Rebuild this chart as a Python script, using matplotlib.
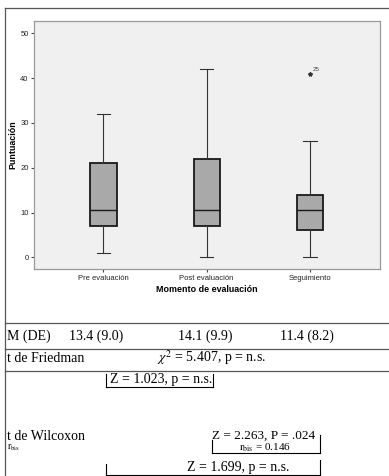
import matplotlib
matplotlib.use("Agg")
import matplotlib.pyplot as plt
from matplotlib.lines import Line2D

plt.rcParams['mathtext.fontset'] = 'stix'

# data
categories = ['Pre evaluación', 'Post evaluación', 'Seguimiento']
whislo = [1, 0, 0]
q1 = [7, 7, 6]
med = [10.5, 10.5, 10.5]
q3 = [21, 22, 14]
whishi = [32, 42, 26]
fliers = [[], [], [41]]
flier_ids = [[], [], ['25']]
yticks = [0, 10, 20, 30, 40, 50]
mean_sd = ['13.4 (9.0)', '14.1 (9.9)', '11.4 (8.2)']

W, H = 389, 476


def fx(x):
    return x / W


def fy(y):
    return 1 - y / H


fig = plt.figure(figsize=(W / 100, H / 100), dpi=100)
fig.patch.set_facecolor('white')

# chart area
ax = fig.add_axes([fx(34.3), fy(269), (380 - 34.3) / W, (269 - 20.7) / H])
ax.set_facecolor('#f0f0f0')

stats = []
for i in range(len(categories)):
    stats.append(dict(whislo=whislo[i], q1=q1[i], med=med[i], q3=q3[i],
                      whishi=whishi[i], fliers=fliers[i], label=categories[i]))

pos = [1, 2, 3]
ax.bxp(stats, positions=pos, widths=0.255, capwidths=0.13, patch_artist=True,
       boxprops=dict(facecolor='#a9a9a9', edgecolor='#1a1a1a', linewidth=1.3),
       medianprops=dict(color='#1a1a1a', linewidth=1.0),
       whiskerprops=dict(color='#333333', linewidth=0.8),
       capprops=dict(color='#333333', linewidth=0.8),
       flierprops=dict(marker='*', markersize=3, markerfacecolor='#333333',
                       markeredgecolor='#333333', linestyle='none'))

for i, ids in enumerate(flier_ids):
    for v, lab in zip(fliers[i], ids):
        ax.annotate(lab, (pos[i], v), xytext=(2, 2), textcoords='offset points',
                    fontsize=4.5, color='#444444', family='Liberation Sans')

ax.set_xlim(0.332, 3.677)
ax.set_ylim(-2.6, 52.8)
ax.set_yticks(yticks)
ax.set_xticks(pos)
ax.set_xticklabels(categories)
for s in ax.spines.values():
    s.set_color('#9a9a9a')
    s.set_linewidth(0.9)
ax.tick_params(axis='both', length=2.5, width=0.8, color='#444444',
               labelsize=5.5, labelcolor='#222222', pad=1.5)
for t in ax.get_xticklabels() + ax.get_yticklabels():
    t.set_family('Liberation Sans')
ax.set_xlabel('Momento de evaluación', fontsize=6.4, fontweight='bold',
              family='Liberation Sans', labelpad=2.5)
ax.set_ylabel('Puntuación', fontsize=6.4, fontweight='bold',
              family='Liberation Sans', labelpad=2)


def hline(y, x0=5, x1=W, color='#555555', lw=0.9):
    fig.add_artist(Line2D([fx(x0), fx(x1)], [fy(y), fy(y)], color=color, lw=lw))


def vline(x, y0, y1, color='#555555', lw=0.9):
    fig.add_artist(Line2D([fx(x), fx(x)], [fy(y0), fy(y1)], color=color, lw=lw))


# outer frame and table rules
hline(8)
vline(5, 8, H)
hline(323)
hline(349)
hline(371)

serif = dict(family='Liberation Serif', fontsize=10, color='black')

fig.text(fx(7), fy(336), 'M (DE)', va='center', ha='left', **serif)
for x, s in zip([96, 205, 307], mean_sd):
    fig.text(fx(x), fy(336), s, va='center', ha='center', **serif)

fig.text(fx(7), fy(358), 't de Friedman', va='center', ha='left', **serif)
fig.text(fx(212), fy(358), r'$\chi^2$ = 5.407, p = n.s.', va='center',
         ha='center', **serif)

fig.text(fx(7), fy(437), 't de Wilcoxon', va='center', ha='left', **serif)
fig.text(fx(7), fy(448), r'$\mathrm{r}_{\mathrm{bis}}$', va='center',
         ha='left', family='Liberation Serif', fontsize=7)


def bracket(x0, x1, ytop_l, ytop_r, ybot):
    vline(x0, ytop_l, ybot, color='black', lw=0.8)
    vline(x1, ytop_r, ybot, color='black', lw=0.8)
    hline(ybot, x0, x1, color='black', lw=0.8)


# Pre vs Post
bracket(106, 213, 374, 374, 387)
fig.text(fx(161), fy(380), 'Z = 1.023, p = n.s.', va='center', ha='center', **serif)

# Post vs Seguimiento
bracket(212, 320, 440, 435, 453)
fig.text(fx(264), fy(435.5), 'Z = 2.263, P = .024', va='center', ha='center',
         family='Liberation Serif', fontsize=9.5)
fig.text(fx(265), fy(447.5), r'$\mathrm{r}_{\mathrm{bis}}$ = 0.146', va='center',
         ha='center', family='Liberation Serif', fontsize=8)

# Pre vs Seguimiento
bracket(106, 320, 464, 460, 475)
fig.text(fx(238), fy(467), 'Z = 1.699, p = n.s.', va='center', ha='center', **serif)

fig.savefig('out.png', dpi=100)
